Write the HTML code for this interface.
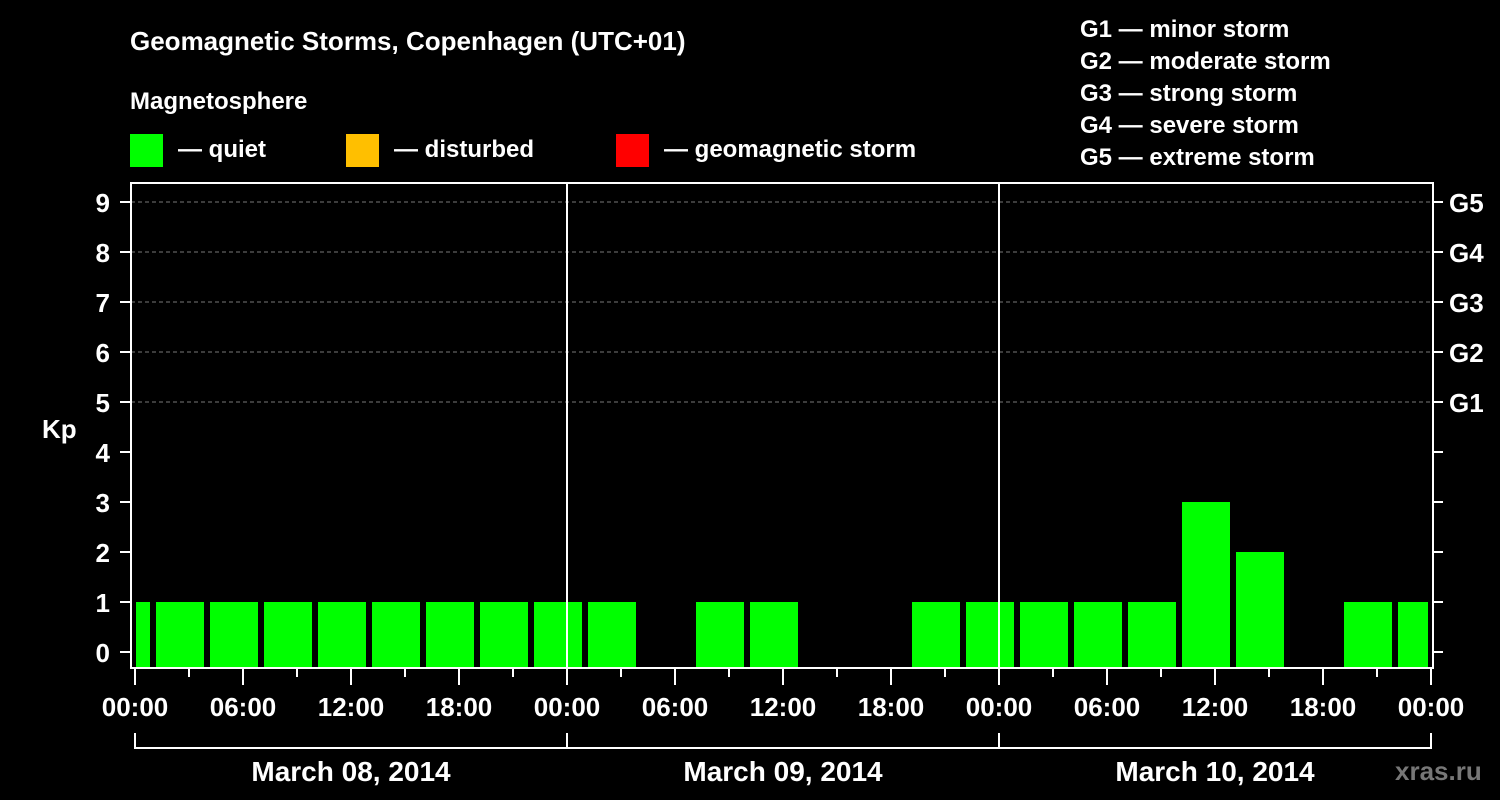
<!DOCTYPE html>
<html><head><meta charset="utf-8"><style>
body{margin:0;background:#000;}
svg{display:block;font-family:"Liberation Sans",Arial,sans-serif;font-weight:bold;}
</style></head><body>
<svg id="chart" width="1500" height="800" viewBox="0 0 1500 800">
<rect width="1500" height="800" fill="#000"/>
<text x="130" y="50" fill="#fff" font-size="26">Geomagnetic Storms, Copenhagen (UTC+01)</text>
<text x="130" y="109" fill="#fff" font-size="24">Magnetosphere</text>
<rect x="130" y="134" width="33" height="33" fill="#00ff00"/>
<text x="178" y="157" fill="#fff" font-size="24">— quiet</text>
<rect x="346" y="134" width="33" height="33" fill="#ffbf00"/>
<text x="394" y="157" fill="#fff" font-size="24">— disturbed</text>
<rect x="616" y="134" width="33" height="33" fill="#ff0000"/>
<text x="664" y="157" fill="#fff" font-size="24">— geomagnetic storm</text>
<g fill="#fff" font-size="24">
<text x="1080" y="37">G1 — minor storm</text>
<text x="1080" y="69">G2 — moderate storm</text>
<text x="1080" y="101">G3 — strong storm</text>
<text x="1080" y="133">G4 — severe storm</text>
<text x="1080" y="165">G5 — extreme storm</text>
</g>
<text x="42" y="438" fill="#fff" font-size="26">Kp</text>
<text x="1395" y="780" fill="#777" font-size="26">xras.ru</text>
<g id="grid"></g>
<g id="bars"></g>
<g id="axes"></g>
</svg>
<script>
const kpValues=[1,1,1,1,1,1,1,1,1,1,0,1,1,0,0,1,1,1,1,1,3,2,0,1,1];
const yTicks=[0,1,2,3,4,5,6,7,8,9];
const gLabels=["G1","G2","G3","G4","G5"];
const gLevels=[5,6,7,8,9];
const xTickLabels=["00:00","06:00","12:00","18:00","00:00","06:00","12:00","18:00","00:00","06:00","12:00","18:00","00:00"];
const dayLabels=["March 08, 2014","March 09, 2014","March 10, 2014"];
const barStartHour=-2; // first bar starts 22:00 previous day (UTC+01)

const X0=135,PXH=18,Y0=652,PXK=50,L=131,R=1433,T=183,B=668;
const xs=h=>X0+h*PXH, ys=k=>Y0-k*PXK;
const NS="http://www.w3.org/2000/svg";
function mk(tag,attrs,parent){const e=document.createElementNS(NS,tag);for(const k in attrs)e.setAttribute(k,attrs[k]);parent.appendChild(e);return e;}
const grid=document.getElementById('grid'),bars=document.getElementById('bars'),axes=document.getElementById('axes');

gLevels.forEach((g,i)=>{
 const l=mk('line',{x1:L,x2:R,y1:ys(g),y2:ys(g),stroke:'#777','stroke-dasharray':'4,3','stroke-width':1},grid);
 
 
 const t=mk('text',{x:1449,y:ys(g)+10,fill:'#fff','font-size':26},axes);t.textContent=gLabels[i];
 
 
});

kpValues.forEach((v,i)=>{
 if(v<=0)return;
 let x1=xs(barStartHour+i*3)+3,x2=xs(barStartHour+i*3+3)-3;
 x1=Math.max(x1,L+5);x2=Math.min(x2,R-5);
 const color=v>=5?'#ff0000':(v>=4?'#ffbf00':'#00ff00');
 const r=mk('rect',{x:x1,y:ys(v),width:x2-x1,height:B-ys(v),fill:color},bars);
 
 
});

// day separators
[1,2].forEach(d=>{
 const l=mk('line',{x1:xs(d*24),x2:xs(d*24),y1:T,y2:B,stroke:'#fff','stroke-width':2},axes);
 
 
});
const frame=mk('rect',{x:L,y:T,width:R-L,height:B-T,fill:'none',stroke:'#fff','stroke-width':2},axes);



yTicks.forEach(k=>{
 mk('line',{x1:120,x2:L,y1:ys(k),y2:ys(k),stroke:'#fff','stroke-width':2},axes);
 mk('line',{x1:R,x2:1443,y1:ys(k),y2:ys(k),stroke:'#fff','stroke-width':2},axes);
 const t=mk('text',{x:110,y:ys(k)+10,fill:'#fff','font-size':26,'text-anchor':'end'},axes);t.textContent=k;
 
 
});

for(let h=0;h<=72;h+=3){
 const major=h%6===0;
 mk('line',{x1:xs(h),x2:xs(h),y1:B,y2:major?685:677,stroke:'#fff','stroke-width':2},axes);
}
xTickLabels.forEach((lab,i)=>{
 const t=mk('text',{x:xs(i*6),y:716,fill:'#fff','font-size':26,'text-anchor':'middle'},axes);t.textContent=lab;
 
 
});
mk('line',{x1:xs(0),x2:xs(72),y1:748,y2:748,stroke:'#fff','stroke-width':2},axes);
for(let d=0;d<=3;d++)mk('line',{x1:xs(d*24),x2:xs(d*24),y1:733,y2:749,stroke:'#fff','stroke-width':2},axes);
dayLabels.forEach((lab,i)=>{
 const t=mk('text',{x:xs(i*24+12),y:781,fill:'#fff','font-size':28,'text-anchor':'middle'},axes);t.textContent=lab;
 
 
});
</script>
</body></html>
